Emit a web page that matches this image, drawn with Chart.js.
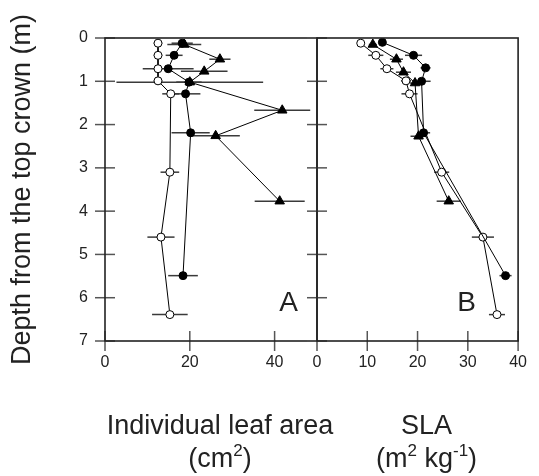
<!DOCTYPE html>
<html lang="en">
<head>
<meta charset="UTF-8">
<title>Leaf area and SLA by depth in the crown</title>
<script src="https://cdn.jsdelivr.net/npm/chart.js@4.4.0/dist/chart.umd.min.js"></script>
<style>
  body { margin: 0; background: #fff; }
  .wrap { position: relative; width: 539px; height: 476px; }
  .wrap canvas { position: absolute; top: 0; }
  #chartA { left: 0; }
  #chartB { left: 287px; }
</style>
</head>
<body>
<div class="wrap">
  <canvas id="chartA" width="380" height="476"></canvas>
  <canvas id="chartB" width="252" height="476"></canvas>
</div>
<script>
// depth from the top of the crown (m), per series
const depthOpen   = [0.12, 0.40, 0.71, 0.99, 1.29, 3.10, 4.60, 6.39];
const depthFilled = [0.12, 0.40, 0.71, 1.02, 1.29, 2.19, 5.49];
const depthTri    = [0.15, 0.49, 0.77, 1.02, 1.67, 2.26, 3.77];
const depthFilledB = [0.10, 0.40, 0.69, 1.00, 2.19, 5.49];
const depthTriB    = [0.15, 0.49, 0.79, 1.04, 2.27, 3.77];

// panel A: individual leaf area (cm2) and error bars
const areaOpen   = [12.5, 12.5, 12.5, 12.5, 15.5, 15.3, 13.2, 15.3];
const areaOpenErr = [1.0, 1.0, 1.0, 1.0, 2.0, 2.2, 3.2, 4.2];
const areaFilled = [18.2, 16.3, 14.9, 19.8, 19.0, 20.2, 18.4];
const areaFilledErr = [2.5, 2.0, 6.0, 3.0, 3.5, 4.5, 3.5];
const areaTri    = [18.7, 27.1, 23.4, 20.0, 41.8, 26.1, 41.2];
const areaTriErr = [4.0, 2.5, 5.5, 17.3, 6.6, 5.7, 5.9];

// panel B: SLA (m2 kg-1) and error bars
const slaOpen   = [8.7, 11.7, 13.9, 17.7, 18.4, 24.8, 33.0, 35.8];
const slaOpenErr = [0.5, 1.5, 1.3, 1.0, 1.6, 1.5, 2.2, 1.6];
const slaFilled = [13.0, 19.2, 21.6, 20.8, 21.2, 37.5];
const slaFilledErr = [0.5, 1.7, 1.0, 1.8, 1.3, 1.2];
const slaTri    = [11.1, 15.8, 17.2, 19.5, 20.2, 26.2];
const slaTriErr = [0.8, 1.3, 1.5, 1.0, 1.6, 2.4];

// ticks
const depthTicks = [0, 1, 2, 3, 4, 5, 6, 7];
const areaTicks = [0, 20, 40];
const slaTicks = [0, 10, 20, 30, 40];

const yTitle = 'Depth from the top crown (m)';
// [text, superscript?]
const titleA = [[['Individual leaf area', false]], [['(cm', false], ['2', true], [')', false]]];
const titleB = [[['SLA', false]], [['(m', false], ['2', true], [' kg', false], ['-1', true], [')', false]]];

const FAMILY = '"Liberation Sans", Arial, sans-serif';
Chart.defaults.font.family = FAMILY;
Chart.defaults.color = '#222';

function pts(xs, ys) {
  return xs.map((v, i) => ({x: v, y: ys[i]}));
}

function series(xs, ys, errs, style) {
  const base = {
    data: pts(xs, ys),
    errors: errs,
    showLine: true,
    borderColor: '#000',
    borderWidth: 1,
    tension: 0,
    pointBorderColor: '#000',
    pointBorderWidth: 1
  };
  if (style === 'open') return Object.assign(base, {pointStyle: 'circle', pointRadius: 4, pointBackgroundColor: '#fff'});
  if (style === 'filled') return Object.assign(base, {pointStyle: 'circle', pointRadius: 4, pointBackgroundColor: '#000'});
  return Object.assign(base, {pointStyle: 'triangle', pointRadius: 5.5, pointBackgroundColor: '#000'});
}

function drawTitleLine(ctx, parts, cx, by) {
  const big = '27px ' + FAMILY;
  const small = '17px ' + FAMILY;
  let w = 0;
  parts.forEach(([t, s]) => { ctx.font = s ? small : big; w += ctx.measureText(t).width; });
  let xx = cx - w / 2;
  parts.forEach(([t, s]) => {
    ctx.font = s ? small : big;
    ctx.fillText(t, xx, s ? by - 11 : by);
    xx += ctx.measureText(t).width;
  });
}

// error bars, frame, crossing tick marks, panel letter and x title
const panelDeco = {
  id: 'panelDeco',
  beforeDatasetsDraw(chart) {
    const {ctx, scales: {x, y}} = chart;
    ctx.save();
    ctx.strokeStyle = '#3a3a3a';
    ctx.lineWidth = 1.5;
    chart.data.datasets.forEach(ds => {
      ds.data.forEach((p, i) => {
        const e = ds.errors[i];
        const py = y.getPixelForValue(p.y);
        ctx.beginPath();
        ctx.moveTo(x.getPixelForValue(p.x - e), py);
        ctx.lineTo(x.getPixelForValue(p.x + e), py);
        ctx.stroke();
      });
    });
    ctx.restore();
  },
  afterDraw(chart, args, opts) {
    const {ctx, chartArea: a, scales: {x, y}} = chart;
    ctx.save();
    // tick marks crossing the axes
    ctx.strokeStyle = '#555';
    ctx.lineWidth = 1.5;
    y.ticks.forEach(t => {
      const py = y.getPixelForValue(t.value);
      ctx.beginPath();
      ctx.moveTo(a.left - 10, py);
      ctx.lineTo(a.left + 10, py);
      ctx.stroke();
    });
    x.ticks.forEach(t => {
      const px = x.getPixelForValue(t.value);
      ctx.beginPath();
      ctx.moveTo(px, a.bottom - 10);
      ctx.lineTo(px, a.bottom + 10);
      ctx.stroke();
    });
    // frame
    ctx.strokeStyle = '#222';
    ctx.lineWidth = 1.6;
    ctx.strokeRect(a.left, a.top, a.right - a.left, a.bottom - a.top);
    // panel letter
    ctx.fillStyle = '#222';
    ctx.font = '28px ' + FAMILY;
    ctx.textAlign = 'center';
    ctx.textBaseline = 'alphabetic';
    ctx.fillText(opts.letter, x.getPixelForValue(opts.letterAt[0]), y.getPixelForValue(opts.letterAt[1]));
    // x title
    ctx.textAlign = 'left';
    const cx = (a.left + a.right) / 2 + 9;
    drawTitleLine(ctx, opts.title[0], cx, a.bottom + 93);
    drawTitleLine(ctx, opts.title[1], cx, a.bottom + 126);
    ctx.restore();
  }
};

function makeChart(id, sets, xMax, xTicks, deco, isLeft) {
  return new Chart(document.getElementById(id), {
    type: 'scatter',
    data: {datasets: sets},
    options: {
      responsive: false,
      animation: false,
      layout: {padding: isLeft ? {left: 0, right: 63, top: 38, bottom: 0} : {left: 30, right: 10, top: 38, bottom: 0}},
      plugins: {legend: {display: false}, tooltip: {enabled: false}, panelDeco: deco},
      scales: {
        x: {
          type: 'linear', min: 0, max: xMax,
          afterBuildTicks: s => { s.ticks = xTicks.map(v => ({value: v})); },
          afterFit: s => { s.height = 135; },
          grid: {display: false, drawTicks: false},
          border: {display: false},
          ticks: {padding: 12, color: '#222', font: {size: 16}}
        },
        y: {
          type: 'linear', reverse: true, min: 0, max: 7,
          afterBuildTicks: s => { s.ticks = depthTicks.map(v => ({value: v})); },
          afterFit: s => { s.width = isLeft ? 105 : 0; },
          grid: {display: false, drawTicks: false},
          border: {display: false},
          ticks: {display: isLeft, padding: 17, color: '#222', font: {size: 16}},
          title: {display: isLeft, text: yTitle, color: '#222', font: {size: 27}, padding: {top: 6, bottom: 0}}
        }
      }
    },
    plugins: [panelDeco]
  });
}

makeChart('chartA', [
  series(areaTri, depthTri, areaTriErr, 'tri'),
  series(areaFilled, depthFilled, areaFilledErr, 'filled'),
  series(areaOpen, depthOpen, areaOpenErr, 'open')
], 50, areaTicks, {letter: 'A', letterAt: [43.3, 6.31], title: titleA}, true);

makeChart('chartB', [
  series(slaTri, depthTriB, slaTriErr, 'tri'),
  series(slaFilled, depthFilledB, slaFilledErr, 'filled'),
  series(slaOpen, depthOpen, slaOpenErr, 'open')
], 40, slaTicks, {letter: 'B', letterAt: [29.75, 6.31], title: titleB}, false);
</script>
</body>
</html>
